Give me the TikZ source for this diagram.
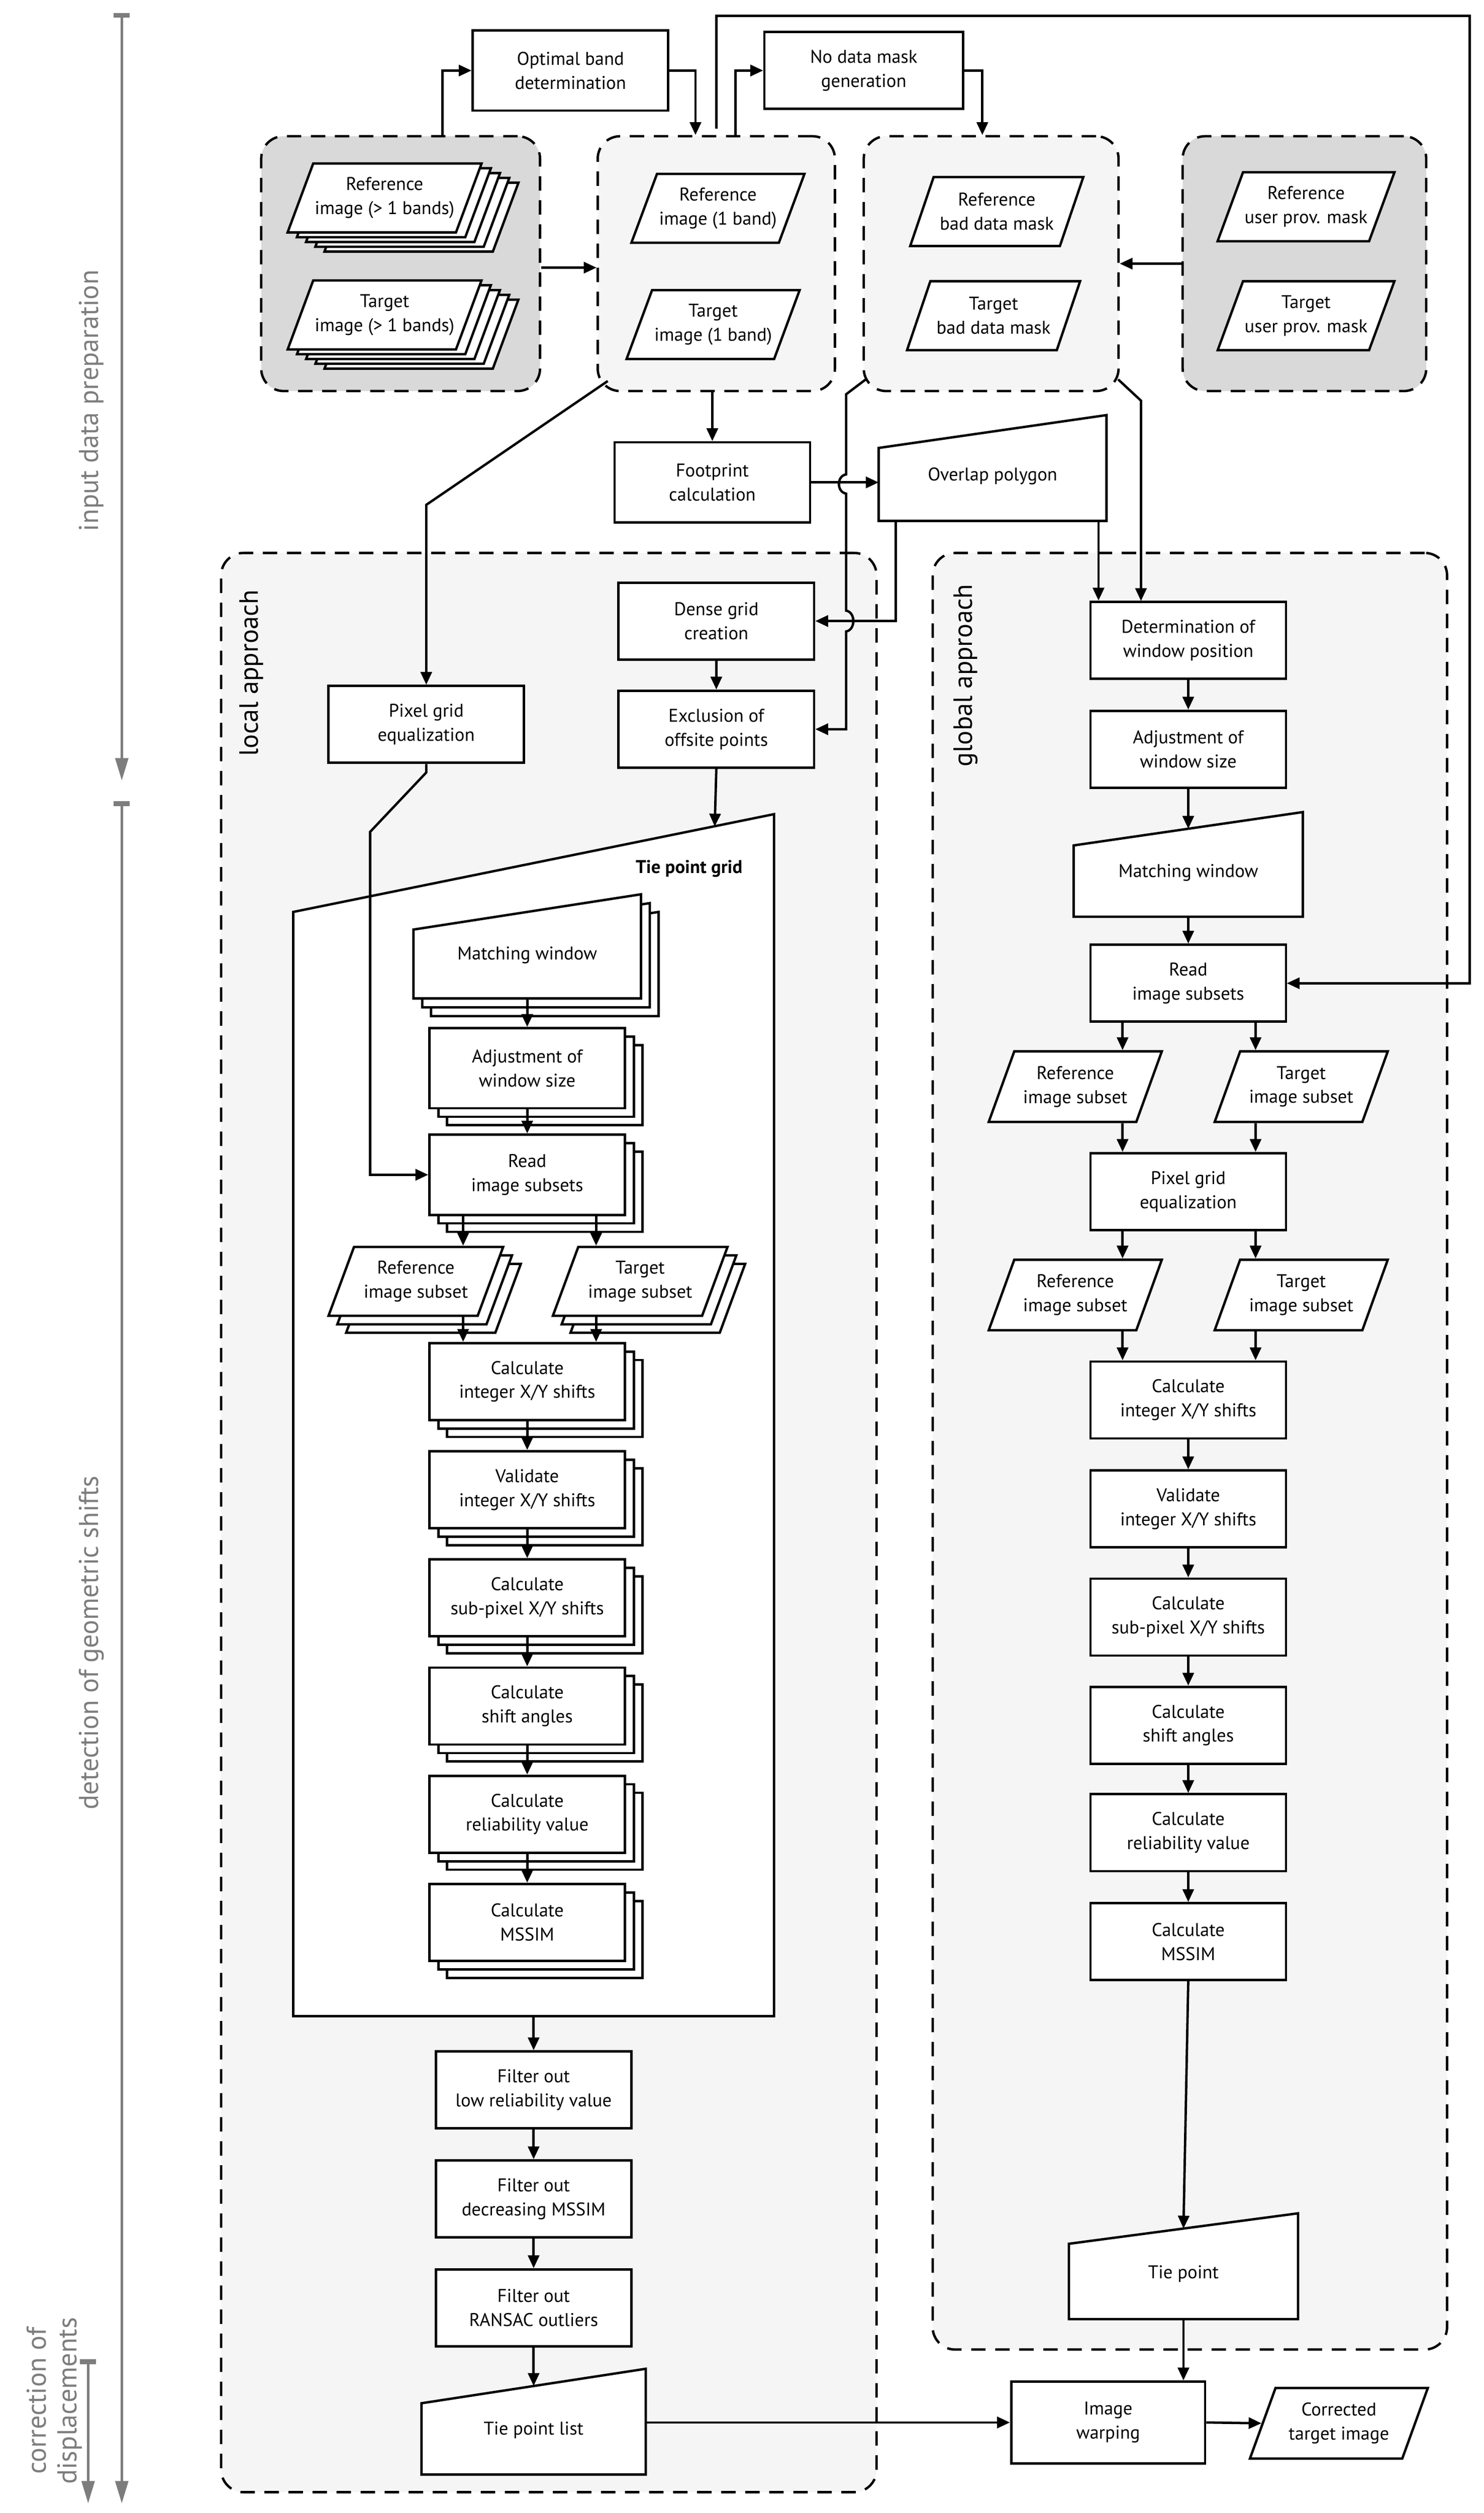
\documentclass[tikz,border=0pt]{standalone}
\usepackage{fontspec}
\setmainfont{PT Sans}
\usetikzlibrary{shapes.geometric,shadows,arrows.meta,calc}
\definecolor{gA}{RGB}{217,217,217}
\definecolor{gB}{RGB}{245,245,245}
\definecolor{axg}{RGB}{125,125,125}
\newcommand\minput[7]{%
  \draw[lw,fill=white] (#2,#4) -- (#3,#5) -- (#3,#6) -- (#2,#6) -- cycle;
  \node[align=center] (#1) at ({(#2+#3)/2},{((#4+#5)/2+#6)/2}) {#7};
  \coordinate (#1-b) at ({(#2+#3)/2},#6);
  \coordinate (#1-t) at ({(#2+#3)/2},{(#4+#5)/2});}
\begin{document}
\begin{tikzpicture}[x=1pt,y=-1pt,font=\fontsize{11.5}{15}\selectfont,
 lw/.style={line width=1.5pt},
 box/.style={draw,fill=white,lw,minimum width=122pt,minimum height=48pt,align=center,inner sep=1pt},
 para/.style={draw,fill=white,lw,trapezium,trapezium left angle=60,trapezium right angle=120,trapezium stretches body,minimum width=108pt,minimum height=43pt,align=center,inner sep=1pt},
 stk/.style={copy shadow={shadow xshift=11pt,shadow yshift=-10.6pt,draw=black,fill=white,line width=1.5pt},
             copy shadow={shadow xshift=5.5pt,shadow yshift=-5.3pt,draw=black,fill=white,line width=1.5pt}},
 stk4/.style={copy shadow={shadow xshift=23pt,shadow yshift=-12pt,draw=black,fill=white,line width=1.5pt},
             copy shadow={shadow xshift=17.3pt,shadow yshift=-9pt,draw=black,fill=white,line width=1.5pt},
             copy shadow={shadow xshift=11.5pt,shadow yshift=-6pt,draw=black,fill=white,line width=1.5pt},
             copy shadow={shadow xshift=5.8pt,shadow yshift=-3pt,draw=black,fill=white,line width=1.5pt}},
 grp/.style={draw,lw,dash pattern=on 9pt off 6pt,rounded corners=14pt,inner sep=0pt},
 arr/.style={lw,-{Triangle[length=8pt,width=7pt]}},
 axis/.style={draw=axg,line width=1.6pt,{Rectangle[length=3pt,width=10pt]}-{Triangle[length=14pt,width=8pt]}},
 axlab/.style={text=axg,font=\fontsize{17}{19}\selectfont,rotate=90,align=center},
 glab/.style={font=\fontsize{16.5}{18}\selectfont,rotate=90}
]
\useasboundingbox[fill=white] (0,0) rectangle (926,1568);

% ---------- axes ----------
\coordinate (a1s) at (76,8);   \coordinate (a1e) at (76,487);
\coordinate (a2s) at (76,500); \coordinate (a2e) at (76,1562);
\coordinate (a3s) at (55,1472);\coordinate (a3e) at (55,1562);
\draw[axis] (a1s) -- (a1e);
\draw[axis] (a2s) -- (a2e);
\draw[axis] (a3s) -- (a3e);
\node[axlab] (l1) at (57,250) {input data preparation};
\node[axlab] (l2) at (57,1025) {detection of geometric shifts};
\node[axlab] (l3) at (34,1498) {correction of\\displacements};

% ---------- groups ----------
\node[grp,fill=gA,minimum width=174pt,minimum height=159pt] (gA) at (250,164.5) {};
\node[grp,fill=gB,minimum width=148pt,minimum height=159pt] (gB) at (447,164.5) {};
\node[grp,fill=gB,minimum width=159pt,minimum height=159pt] (gC) at (618.5,164.5) {};
\node[grp,fill=gA,minimum width=152pt,minimum height=159pt] (gD) at (814,164.5) {};
\node[grp,fill=gB,minimum width=409pt,minimum height=1210pt] (loc) at (342.5,950) {};
\node[grp,fill=gB,minimum width=321pt,minimum height=1121pt] (glo) at (742.5,905.5) {};
\node[glab,anchor=center] (locl) at (157,420) {local approach};
\node[glab,anchor=center] (glol) at (602.5,421.5) {global approach};

% ---------- top nodes ----------
\node[box,minimum height=50pt] (optb) at (356,44) {Optimal band\\determination};
\node[box,minimum width=124pt] (nodm) at (539,44) {No data mask\\generation};
\node[para,stk4] (pAr) at (240,123.5) {Reference\\image (> 1 bands)};
\node[para,stk4] (pAt) at (240,196.5) {Target\\image (> 1 bands)};
\node[para] (pBr) at (448,130) {Reference\\image (1 band)};
\node[para] (pBt) at (445,202.5) {Target\\image (1 band)};
\node[para] (pCr) at (622,132) {Reference\\bad data mask};
\node[para] (pCt) at (620,197) {Target\\bad data mask};
\node[para] (pDr) at (815,129) {Reference\\user prov. mask};
\node[para] (pDt) at (815,197) {Target\\user prov. mask};

\node[box,minimum height=50pt] (foot) at (444.5,301) {Footprint\\calculation};
\minput{ovl}{548.3}{690.5}{279.5}{259}{325}{Overlap polygon}
\node[box] (dense) at (447,387.5) {Dense grid\\creation};
\node[box] (excl) at (447,455) {Exclusion of\\offsite points};
\node[box] (lpix) at (266,452) {Pixel grid\\equalization};

% ---------- top connectors ----------
\draw[arr] ($(gA.north)+(26,0)$) |- (optb.west);
\draw[arr] (optb.east) -| ($(gB.north)+(-13,0)$);
\draw[arr] ($(gB.north)+(12,0)$) |- (nodm.west);
\draw[arr] (nodm.east) -| ($(gC.north)+(-5.5,0)$);
\coordinate (far) at (917,10);
\draw[arr] ($(gB.north)+(0,-4)$) |- (far) |- (glo.east |- 0,613.5) -- (803,613.5);
\draw[arr] (gA.east |- 0,167) -- (gB.west |- 0,167);
\draw[arr] (gD.west) -- (gC.east);
\draw[arr] (foot.north |- gB.south) -- (foot.north);
\coordinate (ovll) at (548.3,301);
\draw[arr] (foot.east) -- (ovll);
\coordinate (ovlbl) at (559,325);
\draw[arr] (ovlbl) |- (dense.east);
\draw[lw,-{Triangle[length=8pt,width=7pt]}] ($(gC.south west)+(2,-8)$) -- (528,246) -- (528,296)
  .. controls (522,297) and (522,307) .. (528,308) -- (528,381)
  .. controls (534,382) and (534,393) .. (528,394) -- (528,455) -- (excl.east);
\node[box] (gdet) at (741.5,399.5) {Determination of\\window position};
\coordinate (ovlb2) at (685.5,325);
\draw[arr] (ovlb2) -- (ovlb2 |- gdet.north);
\draw[arr] ($(gC.south east)+(-1,-8)$) -- (712,250) -- (712 ,375);
\draw[arr] (dense) -- (excl);
\draw[arr] ($(gB.south west)+(7,-7)$) -- (266,315) -- (lpix.north);

% ---------- local approach ----------
\draw[lw,fill=white] (183,569) -- (483,508) -- (483,1258) -- (183,1258) -- cycle;
\coordinate (tgt) at (446,515.7);
\coordinate (tgb) at (333,1258);
\node[font=\bfseries\fontsize{11.5}{15}\selectfont] (tpg) at (430,542) {Tie point grid};
\draw[arr] (excl.south) -- (tgt);

\foreach \s in {11,5.5}{\draw[lw,fill=white] ($(258,580)+(\s,\s)$) -- ($(400,558)+(\s,\s)$) -- ($(400,623)+(\s,\s)$) -- ($(258,623)+(\s,\s)$) -- cycle;}
\minput{lmw}{258}{400}{580}{558}{623}{Matching window}
\node[box,stk,minimum height=50pt] (ladj) at (329,666.5) {Adjustment of\\window size};
\node[box,stk,minimum height=50pt] (lread) at (329,733) {Read\\image subsets};
\node[para,stk,minimum width=109pt] (lref) at (259.5,799.5) {Reference\\image subset};
\node[para,stk,minimum width=109pt] (ltar) at (399.5,799.5) {Target\\image subset};
\node[box,stk] (lc1) at (329,862) {Calculate\\integer X/Y shifts};
\node[box,stk] (lc2) at (329,929.5) {Validate\\integer X/Y shifts};
\node[box,stk] (lc3) at (329,997) {Calculate\\sub-pixel X/Y shifts};
\node[box,stk] (lc4) at (329,1064.5) {Calculate\\shift angles};
\node[box,stk] (lc5) at (329,1132) {Calculate\\reliability value};
\node[box,stk] (lc6) at (329,1199.5) {Calculate\\MSSIM};

\draw[arr] (lmw-b) -- (ladj.north);
\draw[arr] (ladj) -- (lread);
\draw[arr] (lpix.south) -- (266,482) -- (231,519) |- (lread.west);
\draw[arr] ([xshift=-40pt]lread.south) -- ([xshift=-40pt]lread.south |- lref.north);
\draw[arr] ([xshift=43pt]lread.south) -- ([xshift=43pt]lread.south |- ltar.north);
\draw[arr] ([xshift=-40pt]lread.south |- lref.south) -- ([xshift=-40pt]lc1.north);
\draw[arr] ([xshift=43pt]lread.south |- ltar.south) -- ([xshift=43pt]lc1.north);
\draw[arr] (lc1) -- (lc2);
\draw[arr] (lc2) -- (lc3);
\draw[arr] (lc3) -- (lc4);
\draw[arr] (lc4) -- (lc5);
\draw[arr] (lc5) -- (lc6);

\node[box] (lf1) at (333,1304) {Filter out\\low reliability value};
\node[box] (lf2) at (333,1372) {Filter out\\decreasing MSSIM};
\node[box] (lf3) at (333,1440) {Filter out\\RANSAC outliers};
\draw[arr] (tgb) -- (lf1.north);
\draw[arr] (lf1) -- (lf2);
\draw[arr] (lf2) -- (lf3);
\minput{tpl}{263}{403}{1499.5}{1478}{1544}{Tie point list}
\draw[arr] (lf3.south) -- (333,1488.7);

% ---------- global approach ----------
\node[box] (gadj) at (741.5,467.5) {Adjustment of\\window size};
\minput{gmw}{670}{813}{527.5}{506.7}{572}{Matching window}
\node[box] (gread) at (741.5,613.5) {Read\\image subsets};
\node[para,minimum width=108pt,minimum height=44pt] (gref) at (671,678) {Reference\\image subset};
\node[para,minimum width=108pt,minimum height=44pt] (gtar) at (812,678) {Target\\image subset};
\node[box] (gpix) at (741.5,743.5) {Pixel grid\\equalization};
\node[para,minimum width=108pt,minimum height=44pt] (gref2) at (671,808) {Reference\\image subset};
\node[para,minimum width=108pt,minimum height=44pt] (gtar2) at (812,808) {Target\\image subset};
\node[box] (gc1) at (741.5,873.5) {Calculate\\integer X/Y shifts};
\node[box] (gc2) at (741.5,941.5) {Validate\\integer X/Y shifts};
\node[box] (gc3) at (741.5,1009) {Calculate\\sub-pixel X/Y shifts};
\node[box] (gc4) at (741.5,1076.5) {Calculate\\shift angles};
\node[box] (gc5) at (741.5,1143.5) {Calculate\\reliability value};
\node[box] (gc6) at (741.5,1211.5) {Calculate\\MSSIM};
\minput{gtp}{667}{810}{1400}{1381}{1447}{Tie point}

\draw[arr] (gdet) -- (gadj);
\draw[arr] (gadj.south) -- (gmw-t);
\draw[arr] (gmw-b) -- (gread.north);
\draw[arr] ([xshift=-41pt]gread.south) -- ([xshift=-41pt]gread.south |- gref.north);
\draw[arr] ([xshift=42pt]gread.south) -- ([xshift=42pt]gread.south |- gtar.north);
\draw[arr] ([xshift=-41pt]gpix.north |- gref.south) -- ([xshift=-41pt]gpix.north);
\draw[arr] ([xshift=42pt]gpix.north |- gtar.south) -- ([xshift=42pt]gpix.north);
\draw[arr] ([xshift=-41pt]gpix.south) -- ([xshift=-41pt]gpix.south |- gref2.north);
\draw[arr] ([xshift=42pt]gpix.south) -- ([xshift=42pt]gpix.south |- gtar2.north);
\draw[arr] ([xshift=-41pt]gc1.north |- gref2.south) -- ([xshift=-41pt]gc1.north);
\draw[arr] ([xshift=42pt]gc1.north |- gtar2.south) -- ([xshift=42pt]gc1.north);
\draw[arr] (gc1) -- (gc2);
\draw[arr] (gc2) -- (gc3);
\draw[arr] (gc3) -- (gc4);
\draw[arr] (gc4) -- (gc5);
\draw[arr] (gc5) -- (gc6);
\draw[arr] (gc6.south) -- (gtp-t);

% ---------- correction ----------
\node[box,minimum width=121pt,minimum height=51pt] (warp) at (691.5,1511.5) {Image\\warping};
\node[para,minimum width=111pt,minimum height=44pt] (corr) at (835.5,1512) {Corrected\\target image};
\coordinate (tple) at (403,1511.5);
\draw[arr] (tple) -- (warp.west);
\draw[arr] (warp.east) -- (corr.west);
\draw[arr] (gtp-b) -- (gtp-b |- warp.north);
\end{tikzpicture}
\end{document}
